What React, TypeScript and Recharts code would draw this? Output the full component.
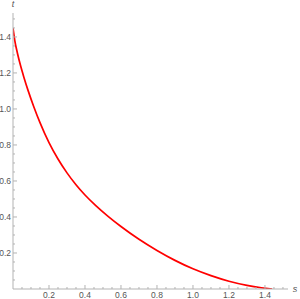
import { LineChart, Line, XAxis, YAxis } from "recharts";

const sValues = [
  0, 0.01, 0.025, 0.04, 0.06, 0.085, 0.115, 0.15, 0.2, 0.25, 0.3, 0.35, 0.4,
  0.46, 0.53, 0.6, 0.7, 0.8, 0.9, 1.0, 1.1, 1.2, 1.3, 1.38, 1.44,
];
const tValues = [
  1.45, 1.38, 1.308, 1.248, 1.178, 1.099, 1.014, 0.924, 0.813, 0.722, 0.645,
  0.579, 0.522, 0.463, 0.402, 0.347, 0.276, 0.214, 0.159, 0.112, 0.074, 0.043,
  0.02, 0.007, 0,
];
const tickValues = [
  0.05, 0.1, 0.15, 0.2, 0.25, 0.3, 0.35, 0.4, 0.45, 0.5, 0.55, 0.6, 0.65, 0.7,
  0.75, 0.8, 0.85, 0.9, 0.95, 1.0, 1.05, 1.1, 1.15, 1.2, 1.25, 1.3, 1.35, 1.4,
  1.45, 1.5,
];
const majorLabels = ["0.2", "0.4", "0.6", "0.8", "1.0", "1.2", "1.4"];

const data = sValues.map((s, i) => ({ s, t: tValues[i] }));

const axisColor = "#b3b3b3";
const labelColor = "#555555";
const font = "'Liberation Sans', Arial, sans-serif";

function labelFor(v: number) {
  const txt = v.toFixed(1);
  const major = Math.abs(v * 5 - Math.round(v * 5)) < 1e-6;
  return major && majorLabels.includes(txt) ? txt : null;
}

function XTick(props: any) {
  const { x, y, payload } = props;
  const lbl = labelFor(payload.value);
  return (
    <g>
      <line x1={x} x2={x} y1={y} y2={y - (lbl ? 4 : 2)} stroke={axisColor} />
      {lbl && (
        <text
          x={x}
          y={y + 9}
          textAnchor="middle"
          fontSize={8.5}
          fill={labelColor}
          fontFamily={font}
        >
          {lbl}
        </text>
      )}
    </g>
  );
}

function YTick(props: any) {
  const { x, y, payload } = props;
  const lbl = labelFor(payload.value);
  return (
    <g>
      <line x1={x} x2={x + (lbl ? 4 : 2)} y1={y} y2={y} stroke={axisColor} />
      {lbl && (
        <text
          x={x - 2}
          y={y + 3}
          textAnchor="end"
          fontSize={8.5}
          fill={labelColor}
          fontFamily={font}
        >
          {lbl}
        </text>
      )}
    </g>
  );
}

export default function App() {
  return (
    <div>
      <style>{`body{margin:0;background:#fff}`}</style>
      <LineChart
        width={300}
        height={299}
        data={data}
        margin={{ top: 13, right: 12, bottom: 0, left: 0 }}
      >
        <XAxis
          type="number"
          dataKey="s"
          domain={[0, 1.528]}
          ticks={tickValues}
          interval={0}
          height={10}
          tickSize={0}
          tickMargin={0}
          tickLine={false}
          axisLine={{ stroke: axisColor }}
          tick={<XTick />}
          allowDataOverflow
          label={{
            content: (p: any) => (
              <text
                x={p.viewBox.x + p.viewBox.width + 7}
                y={p.viewBox.y + 3}
                textAnchor="middle"
                fontSize={9}
                fontStyle="italic"
                fill={labelColor}
                fontFamily={font}
              >
                s
              </text>
            ),
          }}
        />
        <YAxis
          type="number"
          dataKey="t"
          domain={[0, 1.533]}
          ticks={tickValues}
          interval={0}
          width={13}
          tickSize={0}
          tickMargin={0}
          tickLine={false}
          axisLine={{ stroke: axisColor }}
          tick={<YTick />}
          allowDataOverflow
          label={{
            content: (p: any) => (
              <text
                x={p.viewBox.x + p.viewBox.width}
                y={p.viewBox.y - 6}
                textAnchor="middle"
                fontSize={9}
                fontStyle="italic"
                fill={labelColor}
                fontFamily={font}
              >
                t
              </text>
            ),
          }}
        />
        <Line
          type="monotone"
          dataKey="t"
          stroke="#ff0000"
          strokeWidth={1.7}
          dot={false}
          isAnimationActive={false}
        />
      </LineChart>
    </div>
  );
}
